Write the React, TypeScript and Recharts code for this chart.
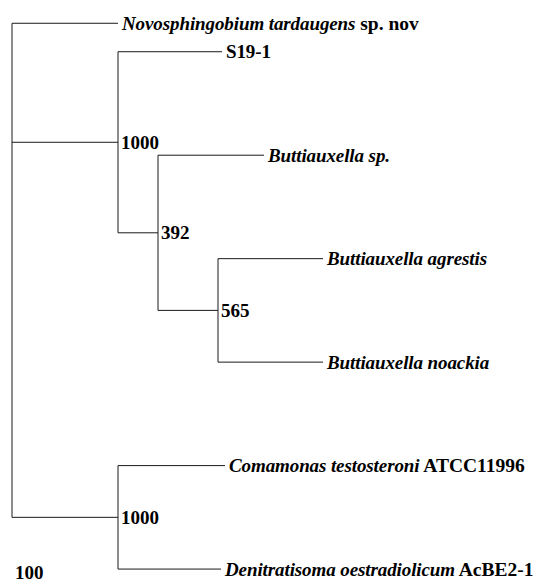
import React from "react";
import { ScatterChart, XAxis, YAxis, ReferenceLine, Scatter } from "recharts";

// ---- Leaves (taxa) ----
const leafNames = [
  "Novosphingobium tardaugens",
  "S19-1",
  "Buttiauxella sp.",
  "Buttiauxella agrestis",
  "Buttiauxella noackia",
  "Comamonas testosteroni",
  "Denitratisoma oestradiolicum",
];
const leafItalic = [true, false, true, true, true, true, true];
const leafSuffix = [" sp. nov", "", "", "", "", " ATCC11996", " AcBE2-1"];
const leafRow = [0.45, 1, 3, 5, 7, 9, 11];
const leafDepth = [10.6, 21.0, 25.2, 31.1, 31.1, 21.3, 20.9];
const leafParent = [0, 1, 2, 3, 3, 4, 4];

// ---- Internal nodes ----
const nodeDepth = [0, 10.6, 14.6, 20.6, 10.6];
const nodeParent = [-1, 0, 1, 2, 0];
const nodeSupport = ["", "1000", "392", "565", "1000"];

// ---- Scale label ----
const scaleLabel = "100";
const scaleLabelPos = { x: 0, y: 11.07 };

const FONT = "'Liberation Serif', 'Times New Roman', serif";
const FS = 19;
const STROKE = "#1a1a1a";

function childRows(i: number): number[] {
  const rows: number[] = [];
  leafParent.forEach((p, li) => {
    if (p === i) rows.push(leafRow[li]);
  });
  nodeParent.forEach((p, ni) => {
    if (p === i) rows.push(nodeRow(ni));
  });
  return rows;
}
function nodeRow(i: number): number {
  const rows = childRows(i);
  return (Math.min(...rows) + Math.max(...rows)) / 2;
}

type Seg = { x1: number; y1: number; x2: number; y2: number };
const segments: Seg[] = [];
leafNames.forEach((_, li) => {
  const p = leafParent[li];
  segments.push({ x1: nodeDepth[p], y1: leafRow[li], x2: leafDepth[li], y2: leafRow[li] });
});
nodeDepth.forEach((d, ni) => {
  const p = nodeParent[ni];
  if (p >= 0) {
    const r = nodeRow(ni);
    segments.push({ x1: nodeDepth[p], y1: r, x2: d, y2: r });
  }
  const rows = childRows(ni);
  segments.push({ x1: d, y1: Math.min(...rows), x2: d, y2: Math.max(...rows) });
});

const leafData = leafNames.map((name, i) => ({
  x: leafDepth[i],
  y: leafRow[i],
  name,
  italic: leafItalic[i],
  suffix: leafSuffix[i],
}));
const supportData = nodeSupport
  .map((s, i) => ({ x: nodeDepth[i], y: nodeRow(i), label: s }))
  .filter((d) => d.label !== "");
const scaleData = [{ x: scaleLabelPos.x, y: scaleLabelPos.y, label: scaleLabel }];

const LeafLabel = (props: any) => {
  const { cx, cy, payload } = props;
  return (
    <text
      x={cx + 4}
      y={cy}
      dy="0.34em"
      fontFamily={FONT}
      fontSize={FS}
      fontWeight="bold"
      fill="#000"
    >
      <tspan fontStyle={payload.italic ? "italic" : "normal"} letterSpacing={-0.1}>
        {payload.name}
      </tspan>
      {payload.suffix ? (
        <tspan fontStyle="normal" fontSize={FS + 0.5}>
          {payload.suffix}
        </tspan>
      ) : null}
    </text>
  );
};

const NodeLabel = (props: any) => {
  const { cx, cy, payload } = props;
  return (
    <text
      x={cx + 3}
      y={cy}
      dy="0.34em"
      fontFamily={FONT}
      fontSize={FS}
      fontWeight="bold"
      fill="#000"
    >
      {payload.label}
    </text>
  );
};

export default function App() {
  return (
    <div style={{ position: "absolute", left: 0, top: 0, width: 554, height: 583 }}>
      <ScatterChart
        width={554}
        height={583}
        margin={{ top: 0, right: 0, bottom: 1, left: 12 }}
        style={{ overflow: "visible" }}
      >
        <XAxis type="number" dataKey="x" domain={[0, 54.2]} hide />
        <YAxis type="number" dataKey="y" domain={[0, 11.25]} reversed hide />
        {segments.map((s, i) => (
          <ReferenceLine
            key={i}
            segment={[
              { x: s.x1, y: s.y1 },
              { x: s.x2, y: s.y2 },
            ]}
            stroke={STROKE}
            strokeWidth={1}
            ifOverflow="visible"
          />
        ))}
        <Scatter data={leafData} shape={LeafLabel} isAnimationActive={false} />
        <Scatter data={supportData} shape={NodeLabel} isAnimationActive={false} />
        <Scatter data={scaleData} shape={NodeLabel} isAnimationActive={false} />
      </ScatterChart>
    </div>
  );
}
